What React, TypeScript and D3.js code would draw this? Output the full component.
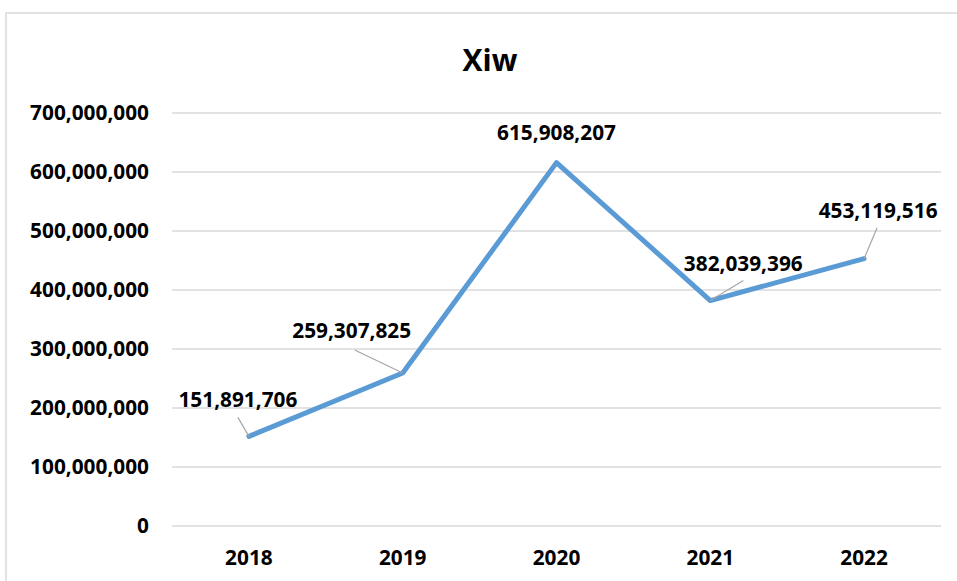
import React from "react";
import * as d3 from "d3";

const categories = ["2018", "2019", "2020", "2021", "2022"];
const values = [151891706, 259307825, 615908207, 382039396, 453119516];
const yTicks = [0, 100000000, 200000000, 300000000, 400000000, 500000000, 600000000, 700000000];
const title = "Xiw";

// label placement (offsets from the point): [dx, dy, leaderDx, leaderDy, hasLeader]
const labelLayout: [number, number, number, number, boolean][] = [
  [-11, -29, -11, -19, true],
  [-51, -35, -48, -23, true],
  [0, -23, 0, 0, false],
  [33, -30, 33, -20, true],
  [14, -41, 13, -31, true],
];

const W = 957;
const H = 581;
const FONT = "'Open Sans', 'Liberation Sans', Arial, sans-serif";
const FS = 20.8;

export default function App() {
  const x = d3.scaleBand().domain(categories).range([172, 941]);
  const y = d3.scaleLinear().domain([0, 700000000]).range([526, 113]);
  const fmt = d3.format(",");
  const line = d3
    .line<number>()
    .x((_, i) => (x(categories[i]) as number) + x.bandwidth() / 2)
    .y((d) => y(d));

  return (
    <svg width={W} height={H} style={{ position: "absolute", left: 0, top: 0 }}>
      <rect x={0} y={0} width={W} height={H} fill="#fff" />
      <rect x={6} y={13} width={W + 10} height={H + 10} fill="#fff" stroke="#d9d9d9" strokeWidth={1.5} />
      <text x={490} y={71} textAnchor="middle" fontFamily={FONT} fontWeight={700} fontSize={30} fill="#000">
        {title}
      </text>
      {yTicks.map((t) => (
        <g key={t}>
          <line x1={172} x2={941} y1={y(t)} y2={y(t)} stroke="#d9d9d9" strokeWidth={1.5} />
          <text x={149} y={y(t) + 7} textAnchor="end" fontFamily={FONT} fontWeight={700} fontSize={FS} fill="#000">
            {fmt(t)}
          </text>
        </g>
      ))}
      {categories.map((c) => (
        <text
          key={c}
          x={(x(c) as number) + x.bandwidth() / 2}
          y={565}
          textAnchor="middle"
          fontFamily={FONT}
          fontWeight={700}
          fontSize={FS}
          fill="#000"
        >
          {c}
        </text>
      ))}
      <path d={line(values) || ""} fill="none" stroke="#5b9bd5" strokeWidth={5} strokeLinejoin="round" strokeLinecap="round" />
      {values.map((v, i) => {
        const px = (x(categories[i]) as number) + x.bandwidth() / 2;
        const py = y(v);
        const [dx, dy, lx, ly, has] = labelLayout[i];
        return (
          <g key={i}>
            {has && <line x1={px + lx} y1={py + ly} x2={px} y2={py} stroke="#a6a6a6" strokeWidth={1.2} />}
            <text x={px + dx} y={py + dy} textAnchor="middle" fontFamily={FONT} fontWeight={700} fontSize={FS} fill="#000">
              {fmt(v)}
            </text>
          </g>
        );
      })}
    </svg>
  );
}
